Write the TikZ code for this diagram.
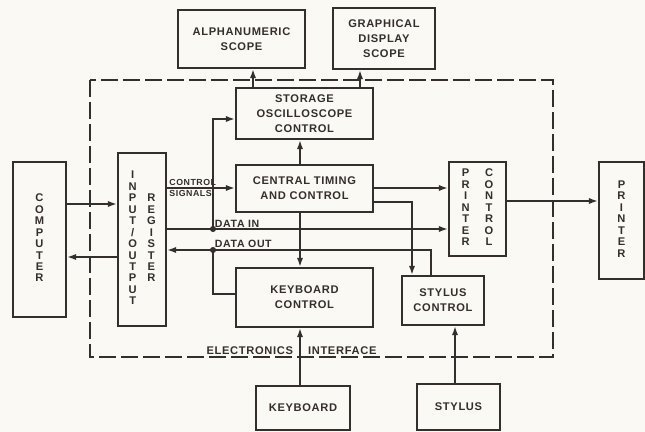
\documentclass[tikz,border=0pt]{standalone}
\usepackage{fontspec}
\setmainfont{Liberation Sans}[LetterSpace=6]
\usetikzlibrary{arrows.meta, calc}

\definecolor{ink}{RGB}{52,46,44}
\definecolor{paper}{RGB}{251,249,244}

% one letter per line, centred on the axis
\newcommand{\letterstack}[1]{$\vcenter{\hbox{\begin{tabular}{@{}c@{}}#1\end{tabular}}}$}

\begin{document}
\begin{tikzpicture}[
  x=0.03cm, y=-0.03cm,
  color=ink,
  >={Latex[length=2.8mm,width=1.9mm]},
  block/.style={
    draw,
    rectangle,
    line width=1.5pt,
    inner sep=1pt,
    align=center,
    font=\bfseries\fontsize{9.5}{12.8}\selectfont
  },
  vblock/.style={block, font=\bfseries\fontsize{9.5}{9.8}\selectfont},
  wire/.style={line width=2pt},
  tag/.style={font=\bfseries\fontsize{9}{10}\selectfont, inner sep=1.5pt},
  smalltag/.style={font=\bfseries\fontsize{7.5}{9}\selectfont, inner sep=2pt},
  frame/.style={line width=1.3pt, dash pattern=on 5mm off 1.6mm}
]

% --- Sheet ---
\fill[paper] (0,0) rectangle (645,432);
\useasboundingbox (0,0) rectangle (645,432);

% --- Electronics interface frame ---
\draw[frame] (90,80) rectangle (553,357);
\node[block, draw=none, anchor=south east] (elec) at (295,357) {ELECTRONICS};
\node[block, draw=none, anchor=south west] (intf) at (306,357) {INTERFACE};

% --- Blocks ---
\node[vblock, minimum width=1.59cm, minimum height=4.65cm] (computer) at (39.5,239.5)
  {\letterstack{C\\O\\M\\P\\U\\T\\E\\R}};
\node[vblock, minimum width=1.44cm, minimum height=5.19cm] (io) at (142,239.5)
  {\letterstack{I\\N\\P\\U\\T\\/\\O\\U\\T\\P\\U\\T}\hspace{0.3cm}\letterstack{R\\E\\G\\I\\S\\T\\E\\R}};
\node[block, minimum width=3.81cm, minimum height=1.74cm] (alpha)    at (241.5,39)  {ALPHANUMERIC\\SCOPE};
\node[block, minimum width=3.06cm, minimum height=1.83cm] (graph)    at (384,38.5)  {GRAPHICAL\\DISPLAY\\SCOPE};
\node[block, minimum width=4.11cm, minimum height=1.53cm] (storage)  at (304.5,113.5) {STORAGE\\OSCILLOSCOPE\\CONTROL};
\node[block, minimum width=4.11cm, minimum height=1.41cm] (timing)   at (304.5,188.5) {CENTRAL TIMING\\AND CONTROL};
\node[block, minimum width=4.11cm, minimum height=1.77cm] (kbdctrl)  at (304.5,297.5) {KEYBOARD\\CONTROL};
\node[block, minimum width=2.46cm, minimum height=1.47cm] (styctrl)  at (443,300.5)   {STYLUS\\CONTROL};
\node[vblock, minimum width=1.71cm, minimum height=2.82cm] (prnctrl) at (477.5,209)
  {\letterstack{P\\R\\I\\N\\T\\E\\R}\hspace{0.45cm}\letterstack{C\\O\\N\\T\\R\\O\\L}};
\node[vblock, minimum width=1.35cm, minimum height=3.51cm] (printer) at (621.5,220.5)
  {\letterstack{P\\R\\I\\N\\T\\E\\R}};
\node[block, minimum width=2.82cm, minimum height=1.32cm] (keyboard) at (303,408)   {KEYBOARD};
\node[block, minimum width=2.49cm, minimum height=1.38cm] (stylus)   at (458.5,407) {STYLUS};

% --- Rows and columns of the wiring ---
\coordinate (rin)   at (0,204);   % computer -> register
\coordinate (rout)  at (0,257);   % register -> computer
\coordinate (rctl)  at (0,188);   % control signals
\coordinate (rdin)  at (0,229);   % data in
\coordinate (rdout) at (0,250);   % data out
\coordinate (rsto)  at (0,119);
\coordinate (rkbd)  at (0,294);
\coordinate (rsty)  at (0,202);
\coordinate (rpo)   at (0,201);
\coordinate (jin)   at (213,229);
\coordinate (jout)  at (213,250);
\coordinate (cmid)  at (300,0);
\coordinate (calp)  at (253,0);
\coordinate (cgra)  at (360,0);
\coordinate (csty)  at (412,0);
\coordinate (cdout) at (431,0);
\coordinate (cstl)  at (455,0);

% --- Computer <-> register ---
\draw[wire,->] (computer.east |- rin) -- (io.west |- rin);
\draw[wire,->] (io.west |- rout) -- (computer.east |- rout);

% --- Register buses ---
\draw[wire,->] (io.east |- rctl) -- (timing.west |- rctl);
\draw[wire,->] (io.east |- rdin) -- (prnctrl.west |- rdin);
\draw[wire,->] (jin) -- (jin |- rsto) -- (storage.west |- rsto);
\draw[wire,->] (styctrl.north -| cdout) -- (cdout |- rdout) -- (io.east |- rdout);
\draw[wire] (jout) -- (jout |- rkbd) -- (kbdctrl.west |- rkbd);
\fill (jin) circle[radius=2.6pt];
\fill (jout) circle[radius=2.6pt];

\node[smalltag, anchor=south west] (lblctl) at (io.east |- rctl) {CONTROL};
\node[smalltag, anchor=north west] (lblsig) at (io.east |- rctl) {SIGNALS};
\node[tag, anchor=south west] (lbldin)  at (jin)  {DATA IN};
\node[tag, anchor=south west] (lbldout) at (jout) {DATA OUT};

% --- Central timing ---
\draw[wire,->] (timing.north -| cmid) -- (storage.south -| cmid);
\draw[wire,->] (timing.south -| cmid) -- (kbdctrl.north -| cmid);
\draw[wire,->] (timing.east |- rctl) -- (prnctrl.west |- rctl);
\draw[wire,->] (timing.east |- rsty) -- (csty |- rsty) -- (styctrl.north -| csty);

% --- Scopes ---
\draw[wire,->] (storage.north -| calp) -- (alpha.south -| calp);
\draw[wire,->] (storage.north -| cgra) -- (graph.south -| cgra);

% --- Keyboard, stylus, printer ---
\draw[wire,->] (keyboard.north -| cmid) -- (kbdctrl.south -| cmid);
\draw[wire,->] (stylus.north -| cstl) -- (styctrl.south -| cstl);
\draw[wire,->] (prnctrl.east |- rpo) -- (printer.west |- rpo);

\end{tikzpicture}
\end{document}
